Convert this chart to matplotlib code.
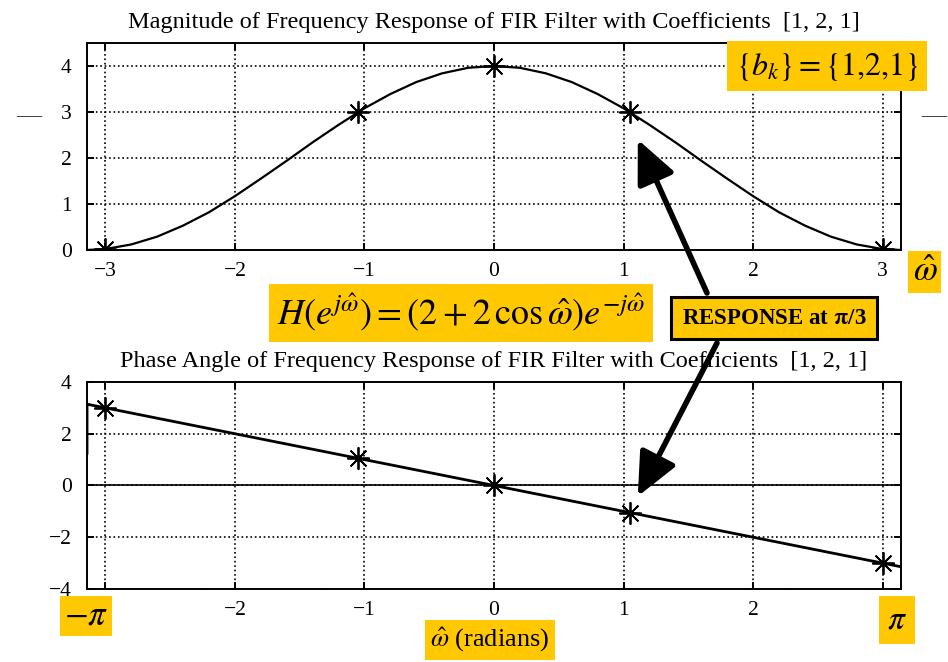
import matplotlib.pyplot as plt
from matplotlib.patches import ArrowStyle

# Frequency-domain curve values
w_curve = [-3.14, -3.0, -2.8, -2.6, -2.4, -2.2, -2.0, -1.8, -1.6, -1.4, -1.2, -1.0,
           -0.8, -0.6, -0.4, -0.2, 0.0, 0.2, 0.4, 0.6, 0.8, 1.0, 1.2, 1.4, 1.6,
           1.8, 2.0, 2.2, 2.4, 2.6, 2.8, 3.0, 3.14]
mag_curve = [0.00, 0.02, 0.12, 0.29, 0.53, 0.82, 1.17, 1.55, 1.94, 2.34, 2.72, 3.08,
             3.39, 3.65, 3.84, 3.96, 4.00, 3.96, 3.84, 3.65, 3.39, 3.08, 2.72, 2.34,
             1.94, 1.55, 1.17, 0.82, 0.53, 0.29, 0.12, 0.02, 0.00]

# phase line (with the small jump at the left edge)
w_phase = [-3.1416, -3.1415, 3.1416]
phase_curve = [1.25, 3.1415, -3.1416]

# sampled points marked with asterisks
w_pts = [-3.0, -1.0472, 0.0, 1.0472, 3.0]
mag_pts = [0.02, 3.0, 4.0, 3.0, 0.02]
phase_pts = [3.0, 1.0472, 0.0, -1.0472, -3.0]

x_ticks = [-3, -2, -1, 0, 1, 2, 3]
top_xlabels = ['\u22123', '\u22122', '\u22121', '0', '1', '2', '3']
bot_xlabels = ['', '\u22122', '\u22121', '0', '1', '2', '']

top_title = 'Magnitude of Frequency Response of FIR Filter with Coefficients  [1, 2, 1]'
bot_title = 'Phase Angle of Frequency Response of FIR Filter with Coefficients  [1, 2, 1]'

plt.rcParams['font.family'] = 'Liberation Serif'
plt.rcParams['mathtext.fontset'] = 'stix'
plt.rcParams['axes.linewidth'] = 1.4

yellow = '#FFC800'
star = (8, 2, 0)

fig = plt.figure(figsize=(9.48, 6.62), dpi=100)
ax1 = fig.add_axes([0.0918, 0.6224, 0.8586, 0.3127])
ax2 = fig.add_axes([0.0918, 0.1103, 0.8586, 0.3127])

ax1.plot(w_curve, mag_curve, color='black', lw=1.6)
ax1.plot(w_pts, mag_pts, ls='none', marker=star, ms=16, mec='black', mew=1.3)
ax1.set_xlim(-3.1416, 3.1416)
ax1.set_ylim(0, 4.5)
ax1.set_yticks([0, 1, 2, 3, 4])
ax1.set_xticks(x_ticks, top_xlabels)
ax1.set_title(top_title, fontsize=17.5, pad=11)

ax2.axhline(0, color='black', lw=1.2)
ax2.plot(w_phase, phase_curve, color='black', lw=2)
ax2.plot(w_pts, phase_pts, ls='none', marker=star, ms=16, mec='black', mew=1.3)
ax2.set_xlim(-3.1416, 3.1416)
ax2.set_ylim(-4, 4)
ax2.set_yticks([-4, -2, 0, 2, 4])
ax2.set_xticks(x_ticks, bot_xlabels)
ax2.set_title(bot_title, fontsize=17.5, pad=11)

for ax in (ax1, ax2):
    ax.grid(True, color='black', ls=':', lw=1.2)
    ax.tick_params(direction='in', length=5, width=1.4, labelsize=15.5,
                   top=True, right=True)
    ax.tick_params(axis='x', pad=9)
    ax.tick_params(axis='y', pad=11)

# yellow labels
box = dict(boxstyle='square,pad=0.22', fc=yellow, ec='none')
fig.text(0.8724, 0.9003, r'$\{b_k\} = \{1{,}2{,}1\}$', fontsize=23,
         ha='center', va='center', bbox=dict(boxstyle='square,pad=0.28', fc=yellow, ec='none'))
fig.text(0.4863, 0.5272, r'$H(e^{j\hat{\omega}}) = (2 + 2\,\cos\hat{\omega})e^{-j\hat{\omega}}$',
         fontsize=26, ha='center', va='center', bbox=box)
fig.text(0.9757, 0.589, r'$\hat{\omega}$', fontsize=25, ha='center', va='center',
         bbox=dict(boxstyle='square,pad=0.12', fc=yellow, ec='none'))
fig.text(0.0907, 0.0695, r'$-\pi$', fontsize=25, ha='center', va='center',
         bbox=dict(boxstyle='square,pad=0.1', fc=yellow, ec='none'))
fig.text(0.946, 0.0634, r'$\pi$', fontsize=24, ha='center', va='center',
         bbox=dict(boxstyle='square,pad=0.25', fc=yellow, ec='none'))
fig.text(0.5169, 0.0332, r'$\hat{\omega}$ (radians)', fontsize=19,
         ha='center', va='center', bbox=box)
fig.text(0.8165, 0.5196, r'RESPONSE at $\mathbf{\pi}$/3', fontsize=16.5, fontweight='bold',
         ha='center', va='center',
         bbox=dict(boxstyle='square,pad=0.45', fc=yellow, ec='black', lw=2.2))

# stray dashes beside the top plot
fig.text(0.030, 0.826, '\u2014', fontsize=18, color='#444444', ha='center', va='center')
fig.text(0.985, 0.826, '\u2014', fontsize=18, color='#444444', ha='center', va='center')

# arrows from the label to the pi/3 samples
arrow = ArrowStyle('-|>', head_length=1.1, head_width=0.5)
ax1.annotate('', xy=(1.11, 2.40), xycoords='data',
             xytext=(707, 662 - 293), textcoords='figure pixels',
             arrowprops=dict(arrowstyle=arrow, mutation_scale=24, lw=4, color='black',
                             shrinkA=0, shrinkB=0))
ax2.annotate('', xy=(1.11, -0.42), xycoords='data',
             xytext=(717, 662 - 343), textcoords='figure pixels',
             arrowprops=dict(arrowstyle=arrow, mutation_scale=24, lw=4, color='black',
                             shrinkA=0, shrinkB=0))

fig.savefig('out.png', dpi=100)
